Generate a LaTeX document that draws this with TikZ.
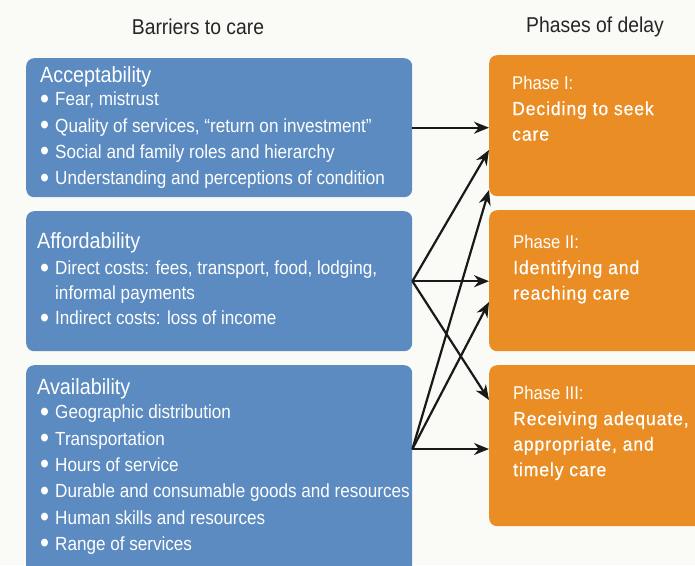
\documentclass[tikz,border=0pt]{standalone}
\usepackage{fontspec}
\setmainfont{Liberation Sans}[FakeStretch=0.9]
\newfontfamily\phasefont{Liberation Sans}[FakeStretch=0.92, LetterSpace=5, FakeBold=0.6]
\usepackage{xcolor}
\usetikzlibrary{positioning, arrows.meta}

\definecolor{barblue}{HTML}{5C8BC1}
\definecolor{phaseorange}{HTML}{E98D24}
\definecolor{paper}{HTML}{FAFAF7}
\definecolor{headgray}{HTML}{262626}

\newcommand{\dotitem}{\makebox[15pt][l]{\raisebox{-2.4pt}{\scalebox{1.5}{\textbullet}}}}

\begin{document}
\begin{tikzpicture}[x=1pt, y=-1pt,
  barrier/.style={rectangle, fill=barblue, rounded corners=8pt, anchor=north west, minimum width=386pt, inner sep=0pt},
  phase/.style={rectangle, fill=phaseorange, rounded corners=8pt, anchor=north west, minimum width=240pt, inner sep=0pt},
  head/.style={text=headgray, inner sep=0pt, font=\fontsize{21.5}{24}\selectfont},
  btitle/.style={text=white, anchor=west, inner sep=0pt, font=\fontsize{22}{24}\selectfont},
  items/.style={text=white, anchor=north west, inner sep=0pt, align=left, font=\fontsize{19}{26.3}\selectfont},
  ptext/.style={text=white, anchor=north west, inner sep=0pt, align=left, font=\fontsize{18.5}{25.5}\selectfont},
  link/.style={-{Stealth[length=15pt, width=12pt]}, line width=2.2pt, draw=black!90}
]
  \useasboundingbox (0,0) rectangle (695,565);
  \fill[paper] (0,0) rectangle (695,565);

  % column headings
  \node[head] (hbar) at (198,27) {Barriers to care};
  \node[head] (hph) at (595,27) {Phases of delay};

  % barriers (left)
  \node[barrier, minimum height=139pt] (acc) at (26,58) {};
  \node[btitle] (acct) at (40,77) {Acceptability};
  \node[items] (accl) at (40,92) {\dotitem Fear, mistrust\\
    \dotitem Quality of services, “return on investment”\\
    \dotitem Social and family roles and hierarchy\\
    \dotitem Understanding and perceptions of condition};

  \node[barrier, minimum height=140pt] (aff) at (26,211) {};
  \node[btitle] (afft) at (37,243) {Affordability};
  \node[items, font=\fontsize{19}{25}\selectfont] (affl) at (40,261) {\dotitem Direct costs: fees, transport, food, lodging,\\
    \hspace*{15pt}informal payments\\
    \dotitem Indirect costs: loss of income};

  \node[barrier, minimum height=230pt] (av) at (26,365) {};
  \node[btitle] (avt) at (37,389) {Availability};
  \node[items] (avl) at (40,405) {\dotitem Geographic distribution\\
    \dotitem Transportation\\
    \dotitem Hours of service\\
    \dotitem Durable and consumable goods and resources\\
    \dotitem Human skills and resources\\
    \dotitem Range of services};

  % phases (right)
  \node[phase, minimum height=141pt] (ph1) at (489,55) {};
  \node[ptext] (ph1t) at (512,76) {Phase I:\\
    {\phasefont\fontsize{19}{25.5}\selectfont Deciding to seek}\\
    {\phasefont\fontsize{19}{25.5}\selectfont care}};

  \node[phase, minimum height=141pt] (ph2) at (489,210) {};
  \node[ptext] (ph2t) at (513,235) {Phase II:\\
    {\phasefont\fontsize{19}{25.5}\selectfont Identifying and}\\
    {\phasefont\fontsize{19}{25.5}\selectfont reaching care}};

  \node[phase, minimum height=161pt] (ph3) at (489,365) {};
  \node[ptext] (ph3t) at (513,386) {Phase III:\\
    {\phasefont\fontsize{19}{25.5}\selectfont Receiving adequate,}\\
    {\phasefont\fontsize{19}{25.5}\selectfont appropriate, and}\\
    {\phasefont\fontsize{19}{25.5}\selectfont timely care}};

  % arrow ends
  \coordinate (av-out) at (av.east |- 0,449);
  \coordinate (ph1-in2) at (ph1.west |- 0,150);
  \coordinate (ph1-in3) at (ph1.west |- 0,190);
  \coordinate (ph2-in2) at (ph2.west |- 0,302);
  \coordinate (ph3-in1) at (ph3.west |- 0,400);

  % links
  \draw[link] (acc.east) -- (acc.east -| ph1.west);
  \draw[link] (aff.east) -- (ph1-in2);
  \draw[link] (aff.east) -- (aff.east -| ph2.west);
  \draw[link] (aff.east) -- (ph3-in1);
  \draw[link] (av-out) -- (ph1-in3);
  \draw[link] (av-out) -- (ph2-in2);
  \draw[link] (av-out) -- (av-out -| ph3.west);
\end{tikzpicture}
\end{document}
